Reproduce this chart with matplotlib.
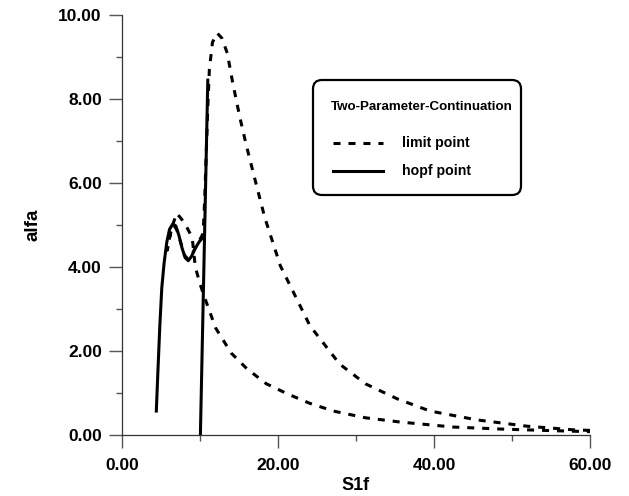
import matplotlib
matplotlib.use("Agg")
import matplotlib.pyplot as plt
import matplotlib.ticker as ticker
import matplotlib.patches as mpatches
from matplotlib.lines import Line2D
from matplotlib.transforms import IdentityTransform

# -------------------------------
# Data
# -------------------------------
# limit point curve (one continuous branch: upper arm -> peak -> cusp loop -> lower arm)
limit_s1f = [60.0, 58.1, 51.9, 45.5, 39.5, 35.3, 31.2, 27.9, 24.1, 20.3, 18.3, 17.3,
             16.0, 15.1, 14.2, 13.5, 12.8, 12.2, 11.6, 11.2, 11.0, 10.8, 10.6, 10.4,
             9.9, 9.4, 8.9, 8.5, 8.0, 7.5, 7.0, 6.6, 6.2, 5.8,
             6.1, 6.5, 7.0, 7.6, 8.3, 9.0, 9.4, 10.0, 10.6, 12.0, 14.0, 16.0,
             18.5, 21.2, 24.0, 27.1, 31.2, 35.6, 42.4, 48.8, 55.8, 60.0]
limit_alfa = [0.11, 0.12, 0.21, 0.36, 0.57, 0.86, 1.22, 1.69, 2.60, 4.03, 5.18, 5.90,
              6.85, 7.57, 8.38, 9.09, 9.45, 9.57, 9.35, 8.70, 7.80, 6.70, 5.60, 4.80,
              4.62, 4.45, 4.28, 4.18, 4.28, 4.60, 4.90, 5.00, 4.80, 4.40,
              4.70, 5.00, 5.28, 5.15, 4.95, 4.70, 4.00, 3.60, 3.27, 2.55, 1.95, 1.58,
              1.22, 0.98, 0.76, 0.57, 0.41, 0.31, 0.19, 0.14, 0.10, 0.08]

# hopf point curves
hopf_left_s1f = [4.4, 4.6, 4.85, 5.1, 5.4, 5.75, 6.1, 6.5, 6.9, 7.3, 7.7, 8.1, 8.5,
                 8.9, 9.4, 9.9, 10.35]
hopf_left_alfa = [0.57, 1.5, 2.6, 3.5, 4.1, 4.6, 4.9, 5.02, 4.98, 4.75, 4.45, 4.22,
                  4.15, 4.25, 4.45, 4.6, 4.7]
hopf_right_s1f = [10.05, 11.0]
hopf_right_alfa = [0.0, 8.45]

x_ticks = [0, 20, 40, 60]
y_ticks = [0, 2, 4, 6, 8, 10]

legend_title = "Two-Parameter-Continuation"
legend_labels = ["limit point", "hopf point"]

# -------------------------------
# Plot
# -------------------------------
plt.rcParams["font.family"] = "Liberation Sans"
plt.rcParams["font.weight"] = "bold"

W, H = 629, 496
fig = plt.figure(figsize=(W / 100, H / 100), dpi=100)
ax = fig.add_axes([122 / W, 61 / H, 468 / W, 420 / H])

lw = 2.2
dash = (0, (2.3, 2.6))
ax.plot(limit_s1f, limit_alfa, color="black", lw=lw, linestyle=dash)
ax.plot(hopf_left_s1f, hopf_left_alfa, color="black", lw=lw)
ax.plot(hopf_right_s1f, hopf_right_alfa, color="black", lw=lw)

ax.set_xlim(0, 60)
ax.set_ylim(0, 10)
ax.set_xticks(x_ticks)
ax.set_yticks(y_ticks)
ax.xaxis.set_minor_locator(ticker.MultipleLocator(10))
ax.yaxis.set_minor_locator(ticker.MultipleLocator(1))
ax.xaxis.set_major_formatter(ticker.FormatStrFormatter("%.2f"))
ax.yaxis.set_major_formatter(ticker.FormatStrFormatter("%.2f"))

for side in ["top", "right"]:
    ax.spines[side].set_visible(False)
for side in ["left", "bottom"]:
    ax.spines[side].set_linewidth(0.9)
    ax.spines[side].set_color("#333333")

ax.tick_params(which="major", direction="out", length=9.5, width=1.0, color="#555555",
               labelsize=12.5)
ax.tick_params(axis="x", which="major", pad=7)
ax.tick_params(axis="y", which="major", pad=5)
ax.tick_params(which="minor", direction="out", length=4.5, width=1.0, color="#555555")
for lab in ax.get_xticklabels() + ax.get_yticklabels():
    lab.set_fontweight("bold")

ax.set_xlabel("S1f", fontsize=13, fontweight="bold", labelpad=3)
ax.set_ylabel("alfa", fontsize=13.5, fontweight="bold", labelpad=12)

# -------------------------------
# Legend box (pixel layout as in the reference)
# -------------------------------
box = mpatches.FancyBboxPatch((313, H - 195), 208, 115,
                              boxstyle="round,pad=0,rounding_size=9",
                              transform=IdentityTransform(), facecolor="white",
                              edgecolor="black", linewidth=1.6, zorder=5)
fig.add_artist(box)
fig.text(331 / W, 1 - 107 / H, legend_title, fontsize=9.6, fontweight="bold",
         va="center", ha="left", zorder=6)
for i, (label, style) in enumerate(zip(legend_labels, [dash, "-"])):
    yp = H - (143 + 28 * i)
    fig.add_artist(Line2D([333, 383], [yp, yp], transform=IdentityTransform(),
                          color="black", lw=lw, linestyle=style, zorder=6))
    fig.text(402 / W, yp / H, label, fontsize=10.2, fontweight="bold",
             va="center", ha="left", zorder=6)

fig.savefig("out.png", dpi=100)
